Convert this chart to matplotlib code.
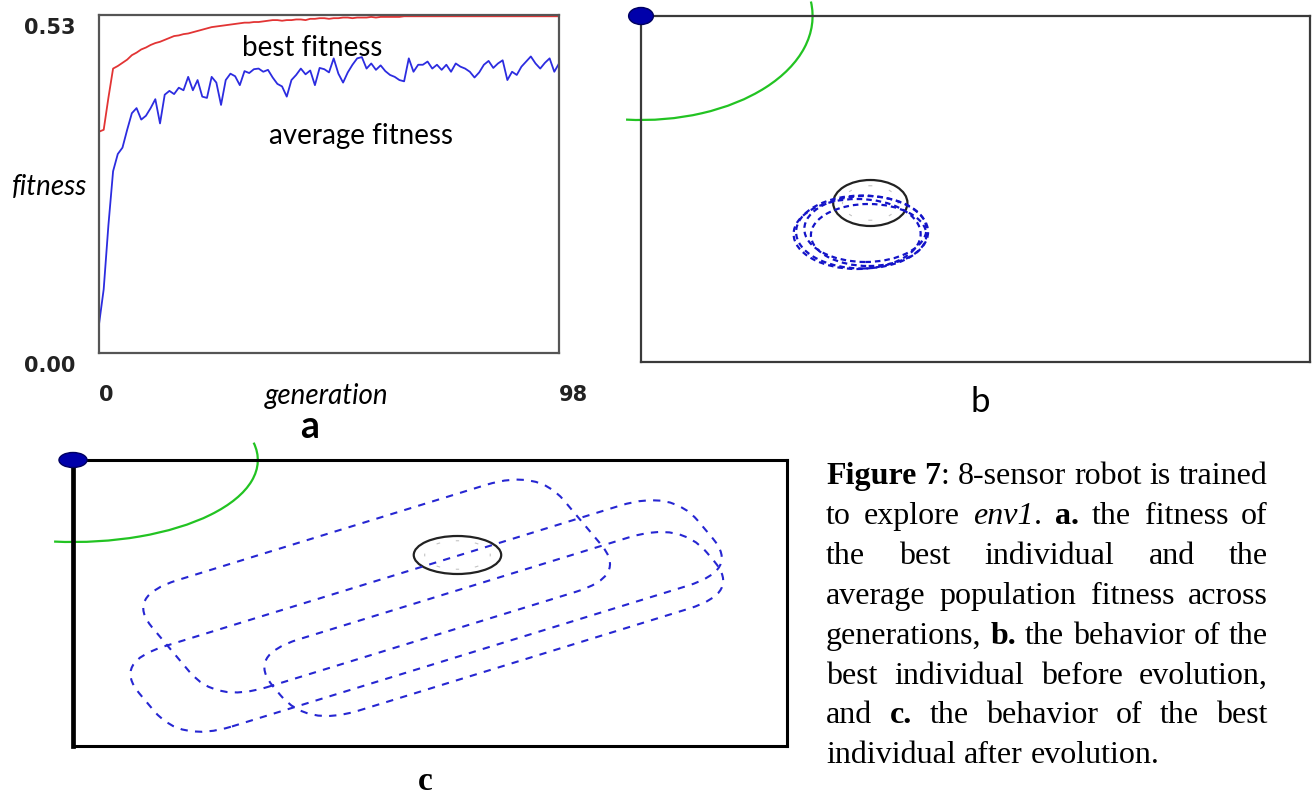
import re
import matplotlib
matplotlib.use("Agg")
import matplotlib.pyplot as plt
from matplotlib.patches import Arc, Ellipse, FancyBboxPatch
from matplotlib.transforms import Affine2D, ScaledTranslation

W, H = 1312, 798

# ---------------- data ----------------
# panel a: fitness per generation
generations = list(range(99))
best_fitness = [
    0.347, 0.350, 0.400, 0.446, 0.450, 0.455, 0.460, 0.467, 0.471, 0.476,
    0.479, 0.483, 0.486, 0.488, 0.491, 0.494, 0.497, 0.498, 0.500, 0.501,
    0.503, 0.505, 0.507, 0.509, 0.511, 0.512, 0.513, 0.514, 0.515, 0.516,
    0.517, 0.518, 0.518, 0.519, 0.519, 0.520, 0.521, 0.522, 0.522, 0.521,
    0.522, 0.522, 0.523, 0.523, 0.522, 0.524, 0.524, 0.525, 0.525, 0.524,
    0.525, 0.525, 0.526, 0.526, 0.525, 0.526, 0.526, 0.526, 0.527, 0.526,
    0.527, 0.527, 0.527, 0.527, 0.527, 0.528, 0.528, 0.528, 0.528, 0.528,
    0.528, 0.528, 0.528, 0.528, 0.528, 0.528, 0.528, 0.528, 0.528, 0.528,
    0.528, 0.528, 0.528, 0.528, 0.528, 0.528, 0.528, 0.528, 0.528, 0.528,
    0.528, 0.528, 0.528, 0.528, 0.528, 0.528, 0.528, 0.528, 0.528,
]
avg_fitness = [
    0.045, 0.100, 0.200, 0.285, 0.312, 0.322, 0.350, 0.376, 0.384, 0.366,
    0.372, 0.384, 0.398, 0.360, 0.405, 0.411, 0.406, 0.416, 0.412, 0.433,
    0.412, 0.428, 0.402, 0.400, 0.433, 0.424, 0.389, 0.428, 0.438, 0.434,
    0.420, 0.442, 0.439, 0.445, 0.446, 0.441, 0.444, 0.432, 0.422, 0.418,
    0.402, 0.428, 0.436, 0.446, 0.437, 0.443, 0.420, 0.447, 0.445, 0.440,
    0.462, 0.438, 0.424, 0.440, 0.452, 0.462, 0.464, 0.446, 0.454, 0.444,
    0.451, 0.442, 0.436, 0.433, 0.428, 0.426, 0.462, 0.441, 0.452, 0.452,
    0.457, 0.446, 0.452, 0.444, 0.452, 0.441, 0.454, 0.449, 0.446, 0.441,
    0.432, 0.440, 0.452, 0.458, 0.447, 0.454, 0.459, 0.428, 0.441, 0.436,
    0.449, 0.457, 0.465, 0.454, 0.446, 0.455, 0.462, 0.441, 0.454,
]
fit_ticks = [0.0, 0.53]
fit_ticklabels = ["0.00", "0.53"]
gen_ticks = [0, 98]
gen_ticklabels = ["0", "98"]

# panel b: robot before evolution (world units)
b_world = (405.5, 346)
b_robot = (0, 346)
b_sensor_radius = 104
b_obstacle = (139, 159, 45, 46)          # x, y, width, height
b_rings = [(134, 130, 80, 73), (136, 133, 74, 66),
           (131, 128, 77, 70), (138, 127, 70, 62)]

# panel c: robot after evolution (world units)
c_world = (432.7, 286)
c_robot = (0, 286)
c_sensor = (224, 164)
c_obstacle = (233, 191, 53, 38)
# each loop of the path: centre x, centre y, length, width
c_loops = [(214, 130, 380, 90), (184, 160, 280, 120), (255, 122, 295, 80)]
c_loop_round = 35
c_loop_angle = 27

spoke_angles = [0, 45, 90, 135, 180, 225, 270, 315]

caption = [
    "**Figure 7**: 8-sensor robot is trained",
    "to explore _env1_. **a.** the fitness of",
    "the best individual and the",
    "average population fitness across",
    "generations, **b.** the behavior of the",
    "best individual before evolution,",
    "and **c.** the behavior of the best",
    "individual after evolution.",
]

# ---------------- helpers ----------------
fig = plt.figure(figsize=(W / 100, H / 100), dpi=100)


def px_axes(left, top, right, bottom):
    return fig.add_axes([left / W, 1 - bottom / H, (right - left) / W, (bottom - top) / H])


def px_text(x, y, s, **kw):
    return fig.text(x / W, 1 - y / H, s, **kw)


def draw_obstacle(ax, ob):
    x, y, w, h = ob
    for a in spoke_angles:
        ax.add_patch(Arc((x, y), w * 0.75, h * 0.75, theta1=a - 4, theta2=a + 4,
                         color="#c4c4c4", lw=0.8))
    ax.add_patch(Ellipse((x, y), w, h, fill=False, ec="#222222", lw=1.6, zorder=3))


def plain_axes(ax, world, color, lw):
    ax.set_xlim(0, world[0])
    ax.set_ylim(0, world[1])
    ax.set_xticks([])
    ax.set_yticks([])
    for sp in ax.spines.values():
        sp.set_color(color)
        sp.set_linewidth(lw)


sans = ["Lato", "DejaVu Sans"]

# ---------------- panel a ----------------
axa = px_axes(99, 15, 559, 353)
axa.plot(generations, best_fitness, color="#e23434", lw=1.3)
axa.plot(generations, avg_fitness, color="#2c2ce0", lw=1.3)
axa.set_xlim(0, 98)
axa.set_ylim(0, 0.53)
for sp in axa.spines.values():
    sp.set_color("#555555")
    sp.set_linewidth(1.6)
axa.set_yticks(fit_ticks)
axa.set_yticklabels(fit_ticklabels, fontsize=15, fontweight="bold", color="#222222")
axa.set_xticks(gen_ticks)
axa.set_xticklabels(gen_ticklabels, fontsize=15, fontweight="bold", color="#222222", ha="left")
axa.tick_params(axis="y", length=0, pad=17)
axa.tick_params(axis="x", length=0, pad=23)
for lab in axa.get_yticklabels():
    lab.set_verticalalignment("top")
    lab.set_transform(lab.get_transform() + ScaledTranslation(0, -3 / 100, fig.dpi_scale_trans))

axa.text(0.463, 0.902, "best fitness", transform=axa.transAxes, ha="center", va="center",
         fontsize=20, family=sans)
axa.text(0.57, 0.642, "average fitness", transform=axa.transAxes, ha="center", va="center",
         fontsize=20, family=sans)
px_text(50, 187, "fitness", ha="center", va="center", fontsize=20, style="italic", family=sans)
px_text(327, 396, "generation", ha="center", va="center", fontsize=20, style="italic", family=sans)
px_text(310, 427, "a", ha="center", va="center", fontsize=27, fontweight="bold", family=sans)

# ---------------- panel b ----------------
axb = px_axes(641, 16, 1310, 362)
plain_axes(axb, b_world, "#3a3a3a", 1.6)
axb.add_patch(Arc(b_robot, 2 * b_sensor_radius, 2 * b_sensor_radius, theta1=-95, theta2=8,
                  color="#22c322", lw=1.6, clip_on=False))
draw_obstacle(axb, b_obstacle)
for cx, cy, w, h in b_rings:
    axb.add_patch(Ellipse((cx, cy), w, h, fill=False, ec="#1414c8", lw=1.6,
                          ls=(0, (2.5, 1.8)), zorder=4))
axb.add_patch(Ellipse(b_robot, 15, 17, fc="#0000aa", ec="#000060", lw=1, clip_on=False, zorder=6))
px_text(980, 402, "b", ha="center", va="center", fontsize=25, family=sans)

# ---------------- panel c ----------------
axc = px_axes(73, 460, 787, 746)
plain_axes(axc, c_world, "black", 2.2)
axc.spines["left"].set_linewidth(3.4)
axc.add_patch(Arc(c_robot, c_sensor[0], c_sensor[1], theta1=-98, theta2=9,
                  color="#22c322", lw=1.6, clip_on=False))
draw_obstacle(axc, c_obstacle)
for cx, cy, length, width in c_loops:
    loop = FancyBboxPatch((cx - length / 2, cy - width / 2), length, width,
                          boxstyle=f"round,pad=0,rounding_size={c_loop_round}",
                          fill=False, ec="#2626d2", lw=1.5, ls=(0, (3.5, 3.5)), zorder=4)
    loop.set_transform(Affine2D().rotate_deg_around(cx, cy, c_loop_angle) + axc.transData)
    axc.add_patch(loop)
axc.add_patch(Ellipse(c_robot, 17, 15, fc="#0000aa", ec="#000060", lw=1, clip_on=False, zorder=6))
px_text(425, 782, "c", ha="center", va="center", fontsize=24, fontweight="bold",
        family="Liberation Serif")

# ---------------- caption (justified) ----------------
cap_font = dict(fontsize=23, family="Liberation Serif", color="black")
styles = {"normal": {}, "bold": {"fontweight": "bold"}, "italic": {"fontstyle": "italic"}}
renderer = fig.canvas.get_renderer()


def parse_words(line):
    words = [[]]
    for piece in re.split(r"(\*\*[^*]+\*\*|_[^_]+_)", line):
        if not piece:
            continue
        if piece.startswith("**"):
            style, txt = "bold", piece[2:-2]
        elif piece.startswith("_"):
            style, txt = "italic", piece[1:-1]
        else:
            style, txt = "normal", piece
        for i, part in enumerate(txt.split(" ")):
            if i > 0:
                words.append([])
            if part:
                words[-1].append((part, style))
    return [w for w in words if w]


def seg_width(txt, style):
    t = fig.text(0, 0, txt, **cap_font, **styles[style])
    w = t.get_window_extent(renderer).width
    t.remove()
    return w


cap_left, cap_right = 826, 1268
base0, line_gap = 484, 39.9
space_w = seg_width("a a", "normal") - seg_width("aa", "normal")

for li, line in enumerate(caption):
    words = parse_words(line)
    widths = [[seg_width(t, s) for t, s in w] for w in words]
    total = sum(sum(ws) for ws in widths)
    if li < len(caption) - 1 and len(words) > 1:
        gap = (cap_right - cap_left - total) / (len(words) - 1)
    else:
        gap = space_w
    x = cap_left
    y = base0 + li * line_gap
    for w, ws in zip(words, widths):
        for (t, s), sw in zip(w, ws):
            px_text(x, y, t, ha="left", va="baseline", **cap_font, **styles[s])
            x += sw
        x += gap

fig.savefig("out.png", dpi=100)
